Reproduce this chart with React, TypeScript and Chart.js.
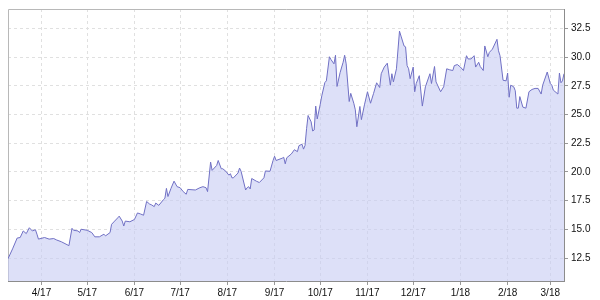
import React, { useEffect, useRef } from "react";
import { Chart, registerables } from "chart.js";

Chart.register(...registerables);

// Days since 2017-03-10 for each plotted close
const dayOffsets: number[] = [
  0, 3, 6, 8, 10, 12, 14, 16, 18, 19,
  20, 24, 27, 30, 32, 35, 40, 42, 43, 46,
  47, 48, 52, 55, 57, 60, 63, 64, 67, 68,
  70, 72, 73, 75, 76, 77, 80, 83, 85, 87,
  89, 91, 93, 94, 96, 97, 99, 102, 103, 104,
  105, 107, 109, 111, 113, 115, 117, 118, 123, 126,
  128, 130, 131, 133, 134, 137, 138, 140, 141, 143,
  145, 146, 147, 148, 151, 152, 153, 156, 157, 158,
  159, 160, 163, 165, 168, 169, 172, 174, 175, 176,
  180, 181, 182, 183, 186, 188, 190, 191, 193, 194,
  195, 196, 197, 199, 200, 201, 202, 203, 205, 206,
  208, 209, 211, 212, 214, 215, 216, 218, 220, 221,
  222, 224, 225, 227, 228, 229, 231, 232, 234, 236,
  238, 240, 242, 244, 245, 247, 249, 251, 252, 253,
  255, 257, 258, 260, 261, 262, 263, 264, 266, 267,
  268, 270, 272, 274, 277, 278, 280, 281, 284, 286,
  288, 290, 292, 293, 295, 297, 299, 301, 302, 304,
  306, 307, 309, 310, 312, 313, 315, 316, 318, 321,
  322, 323, 325, 327, 328, 329, 330, 332, 333, 334,
  335, 336, 338, 340, 342, 344, 346, 348, 350, 351,
  354, 356, 357, 358, 361, 362, 363, 364, 365,
];

const prices: number[] = [
  12.44, 13.30, 14.24, 14.29, 14.86, 14.63, 15.14, 14.86, 14.97, 14.58,
  14.15, 14.29, 14.15, 14.20, 14.07, 13.92, 13.58, 15.09, 14.92, 14.86,
  14.72, 15.01, 14.92, 14.72, 14.35, 14.35, 14.58, 14.43, 14.72, 15.44,
  15.72, 16.00, 16.15, 15.72, 15.29, 15.72, 15.66, 15.86, 16.43, 16.34,
  16.23, 17.43, 17.20, 17.15, 16.98, 17.29, 17.09, 17.58, 17.71, 18.57,
  17.86, 18.57, 19.20, 18.72, 18.63, 18.29, 18.06, 18.48, 18.43, 18.63,
  18.72, 18.63, 18.29, 20.86, 20.14, 20.57, 21.00, 20.28, 20.28, 20.06,
  19.72, 19.85, 19.49, 19.49, 19.91, 20.34, 20.06, 18.43, 18.63, 18.72,
  18.52, 19.43, 19.20, 19.08, 19.49, 20.09, 20.06, 21.00, 21.37, 21.00,
  21.20, 21.28, 20.71, 21.24, 21.57, 21.94, 21.77, 22.29, 22.42, 21.99,
  22.31, 23.77, 24.92, 24.37, 23.57, 23.66, 25.74, 24.62, 25.91, 26.64,
  27.79, 27.94, 30.04, 29.80, 29.42, 30.17, 27.45, 28.65, 29.56, 30.17,
  29.42, 26.14, 26.85, 25.99, 25.42, 23.94, 25.71, 24.56, 25.85, 26.99,
  25.99, 26.85, 27.77, 27.36, 28.56, 29.14, 29.48, 27.56, 28.56, 27.85,
  28.99, 32.27, 31.84, 30.98, 30.90, 29.27, 28.99, 28.13, 29.14, 26.99,
  27.71, 28.39, 25.74, 27.42, 28.56, 27.71, 29.19, 27.85, 26.99, 27.42,
  28.99, 28.90, 28.84, 29.27, 29.36, 29.14, 28.84, 30.13, 29.85, 29.85,
  30.13, 29.14, 29.56, 29.19, 28.84, 30.98, 30.04, 30.42, 30.70, 31.56,
  30.56, 30.13, 27.99, 27.94, 28.62, 26.51, 27.56, 27.42, 27.08, 25.56,
  25.56, 26.57, 25.65, 25.56, 26.99, 27.19, 27.28, 27.28, 26.79, 27.56,
  28.71, 27.71, 27.56, 27.13, 26.79, 28.62, 27.77, 27.94, 28.56,
];

// Month tick positions (days since 2017-03-10) and labels
const monthTickDays: number[] = [22, 52, 83, 113, 144, 175, 205, 236, 266, 297, 328, 356];
const monthTickLabels: string[] = [
  "4/17", "5/17", "6/17", "7/17", "8/17", "9/17",
  "10/17", "11/17", "12/17", "1/18", "2/18", "3/18",
];

const yTickValues: number[] = [12.5, 15.0, 17.5, 20.0, 22.5, 25.0, 27.5, 30.0, 32.5];

const frameLines = {
  id: "frameLines",
  beforeDatasetsDraw(chart: any) {
    const { ctx, chartArea } = chart;
    ctx.save();
    ctx.strokeStyle = "#b8b8b8";
    ctx.lineWidth = 1;
    ctx.beginPath();
    ctx.moveTo(chartArea.left + 0.5, chartArea.bottom);
    ctx.lineTo(chartArea.left + 0.5, chartArea.top + 0.5);
    ctx.lineTo(chartArea.right, chartArea.top + 0.5);
    ctx.stroke();
    ctx.restore();
  },
};

export default function App() {
  const canvasRef = useRef<HTMLCanvasElement | null>(null);

  useEffect(() => {
    document.body.style.margin = "0";
    const canvas = canvasRef.current;
    if (!canvas) return;
    const points = dayOffsets.map((d, i) => ({ x: d, y: prices[i] }));
    const font = { family: "'Liberation Sans', Arial, sans-serif", size: 10 };
    const chart = new Chart(canvas, {
      type: "line",
      data: {
        datasets: [
          {
            data: points,
            borderColor: "#7070c4",
            backgroundColor: "rgba(198,203,243,0.6)",
            borderWidth: 1,
            pointRadius: 0,
            tension: 0,
            fill: "start",
          },
        ],
      },
      options: {
        animation: false,
        responsive: false,
        maintainAspectRatio: false,
        layout: { padding: { left: 8, top: 4, right: 0, bottom: 0 } },
        plugins: {
          legend: { display: false },
          tooltip: { enabled: false },
        },
        scales: {
          x: {
            type: "linear",
            min: 0,
            max: 365,
            afterBuildTicks(scale: any) {
              scale.ticks = monthTickDays.map((v) => ({ value: v }));
            },
            afterFit(scale: any) {
              scale.height = 19;
            },
            ticks: {
              autoSkip: false,
              maxRotation: 0,
              minRotation: 0,
              padding: 2,
              color: "#111",
              font,
              callback: (value: any) => {
                const idx = monthTickDays.indexOf(Number(value));
                return idx >= 0 ? monthTickLabels[idx] : "";
              },
            },
            grid: {
              color: "#e0e0e0",
              lineWidth: 1,
              drawTicks: true,
              tickLength: 4,
              tickColor: "#999",
            },
            border: { display: true, color: "#8c8c8c", width: 1, dash: [3, 3] },
          },
          y: {
            type: "linear",
            position: "right",
            min: 10.5,
            max: 34.2,
            afterBuildTicks(scale: any) {
              scale.ticks = yTickValues.map((v) => ({ value: v }));
            },
            afterFit(scale: any) {
              scale.width = 36;
            },
            ticks: {
              padding: 3,
              color: "#111",
              font,
              callback: (value: any) => Number(value).toFixed(1),
            },
            grid: {
              color: "#e0e0e0",
              lineWidth: 1,
              drawTicks: true,
              tickLength: 4,
              tickColor: "#999",
            },
            border: { display: true, color: "#8c8c8c", width: 1, dash: [3, 3] },
          },
        },
      },
      plugins: [frameLines],
    } as any);
    return () => chart.destroy();
  }, []);

  return (
    <div style={{ position: "absolute", left: 0, top: 0, width: 600, height: 300 }}>
      <canvas ref={canvasRef} width={600} height={300} style={{ width: 600, height: 300 }} />
    </div>
  );
}
